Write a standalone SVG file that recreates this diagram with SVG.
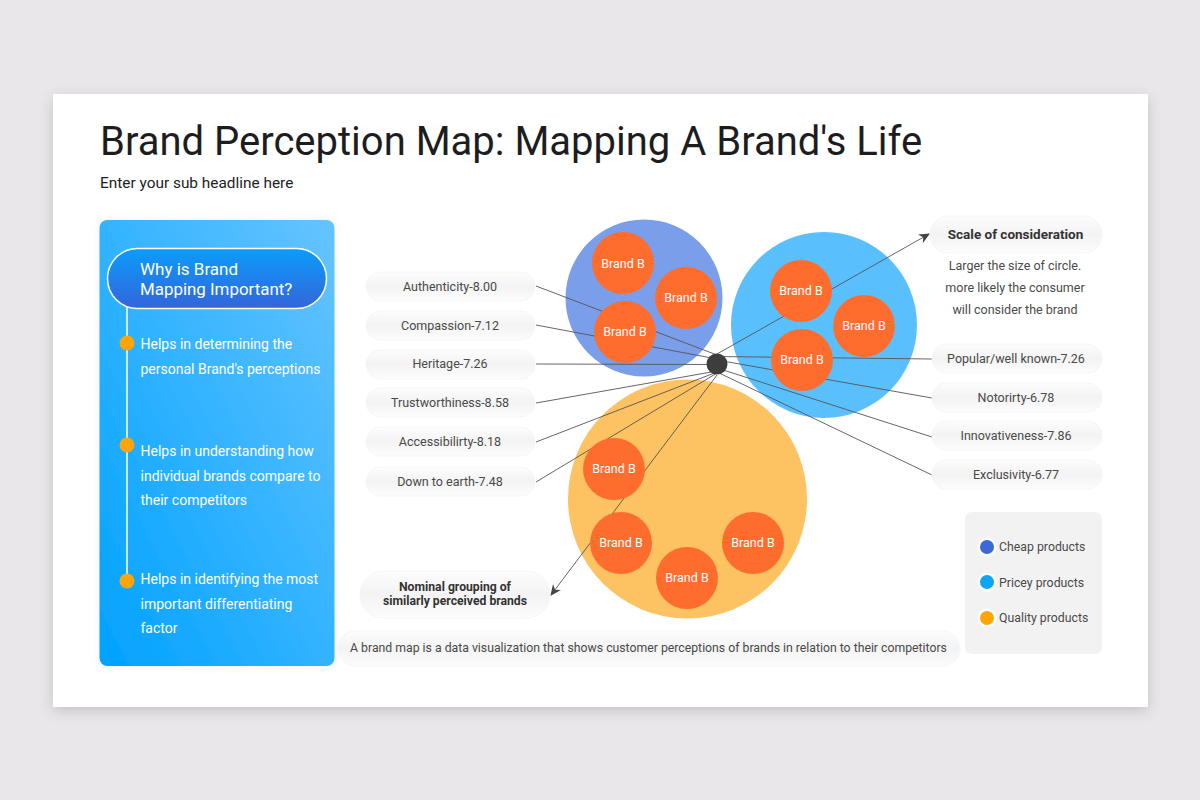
<svg xmlns="http://www.w3.org/2000/svg" width="1200" height="800" viewBox="0 0 1200 800">
<style>
text{font-family:Roboto,"Liberation Sans",sans-serif}
.pill{fill:url(#pg);stroke:#f6f6f6;stroke-width:1}
.lbl{font-size:12.5px;fill:#4a4a4a;text-anchor:middle}
.bold{font-size:13.500px;font-weight:700;fill:#333;text-anchor:middle}
.brand{fill:#ff6d2e}
.bt{font-size:12.5px;fill:#fff;text-anchor:middle}
.side{font-size:14px;fill:#fff}
.dot{fill:#ffa40a}
.cn{fill:none;stroke:#555;stroke-width:1;stroke-opacity:.9}
.leg{font-size:12.300px;fill:#4a4a4a}
</style>
<defs>
<linearGradient id="pg" x1="0" y1="0" x2="0" y2="1"><stop offset="0" stop-color="#fdfdfd"/><stop offset=".5" stop-color="#f3f3f3"/><stop offset="1" stop-color="#fdfdfd"/></linearGradient>
<linearGradient id="panel" x1="1" y1="0" x2="0" y2="1"><stop offset="0" stop-color="#66c4ff"/><stop offset="1" stop-color="#00a2ff"/></linearGradient>
<linearGradient id="head" x1="0" y1="0" x2="0" y2="1"><stop offset="0" stop-color="#0a9dfb"/><stop offset="1" stop-color="#3465d9"/></linearGradient>
<filter id="sh" x="-5%" y="-5%" width="110%" height="110%"><feDropShadow dx="0" dy="4" stdDeviation="7" flood-color="#000" flood-opacity=".16"/></filter>
<filter id="sh2" x="-10%" y="-10%" width="120%" height="120%"><feDropShadow dx="0" dy="0" stdDeviation="4" flood-color="#000" flood-opacity=".06"/></filter>
<marker id="arr" viewBox="0 0 10 10" refX="9" refY="5" markerWidth="11" markerHeight="11" markerUnits="userSpaceOnUse" orient="auto"><path d="M0,0.5L10,5L0,9.5L3,5Z" fill="#444"/></marker>
</defs>
<rect width="1200" height="800" fill="#e9e7e9"/>
<rect x="53" y="94" width="1095" height="613" fill="#fff" filter="url(#sh)"/>
<text x="100" y="155" font-size="40" fill="#1d1d1f">Brand Perception Map: Mapping A Brand's Life</text>
<text x="100" y="188" font-size="15.400" fill="#222">Enter your sub headline here</text>

<g id="side-panel">
<rect x="99.500" y="220" width="235" height="446" rx="8" fill="url(#panel)" filter="url(#sh2)"/>
<line x1="127" y1="305" x2="127" y2="581" stroke="#fff" stroke-width="1.500"/>
<rect x="107.500" y="248.500" width="219" height="60" rx="30" fill="url(#head)" stroke="#fff" stroke-width="1.500"/>
<text x="140" y="275" font-size="17" fill="#fff">Why is Brand</text>
<text x="140" y="295" font-size="16.900" fill="#fff">Mapping Important?</text>
<circle class="dot" cx="127" cy="343" r="7.500"/>
<text class="side" x="140.500" y="349">Helps in determining the</text>
<text class="side" x="140.500" y="374">personal Brand's perceptions</text>
<circle class="dot" cx="127" cy="445" r="7.500"/>
<text class="side" x="140.500" y="456">Helps in understanding how</text>
<text class="side" x="140.500" y="481">individual brands compare to</text>
<text class="side" x="140.500" y="505">their competitors</text>
<circle class="dot" cx="127" cy="581" r="7.500"/>
<text class="side" x="140.500" y="584">Helps in identifying the most</text>
<text class="side" x="140.500" y="609">important differentiating</text>
<text class="side" x="140.500" y="633">factor</text>
</g>

<g id="big-circles">
<circle cx="644" cy="298" r="78.500" fill="#7a9ee9"/>
<circle cx="824" cy="325" r="93" fill="#5ac0fd"/>
<circle cx="687.500" cy="499" r="119.500" fill="#fdc261"/>
</g>

<g id="connectors">
<line class="cn" x1="536" y1="286" x2="717" y2="355"/>
<line class="cn" x1="536" y1="325" x2="717" y2="359"/>
<line class="cn" x1="536" y1="364" x2="717" y2="364.500"/>
<line class="cn" x1="536" y1="403" x2="717" y2="371"/>
<line class="cn" x1="536" y1="442" x2="717" y2="372"/>
<line class="cn" x1="536" y1="482" x2="717" y2="373"/>
<line class="cn" x1="932" y1="359" x2="717" y2="356.500"/>
<line class="cn" x1="932" y1="398" x2="717" y2="360"/>
<line class="cn" x1="932" y1="437" x2="717" y2="368"/>
<line class="cn" x1="932" y1="475" x2="717" y2="372"/>
<line class="cn" x1="717" y1="354" x2="929" y2="234" marker-end="url(#arr)"/>
<line class="cn" x1="717" y1="375" x2="551" y2="595" marker-end="url(#arr)"/>
</g>

<g id="hub"><circle cx="717" cy="364" r="10.500" fill="#3d3d3d"/></g>

<g id="brands-blue">
<circle class="brand" cx="623" cy="263" r="31"/><text class="bt" x="623" y="267.500">Brand B</text>
<circle class="brand" cx="686" cy="298" r="31"/><text class="bt" x="686" y="302">Brand B</text>
<circle class="brand" cx="625" cy="332" r="31"/><text class="bt" x="625" y="336">Brand B</text>
</g>
<g id="brands-sky">
<circle class="brand" cx="801" cy="291" r="31"/><text class="bt" x="801" y="295">Brand B</text>
<circle class="brand" cx="864" cy="326" r="31"/><text class="bt" x="864" y="330">Brand B</text>
<circle class="brand" cx="802" cy="360" r="31"/><text class="bt" x="802" y="364">Brand B</text>
</g>
<g id="brands-yellow">
<circle class="brand" cx="614" cy="469" r="31"/><text class="bt" x="614" y="473">Brand B</text>
<circle class="brand" cx="621" cy="543" r="31"/><text class="bt" x="621" y="547">Brand B</text>
<circle class="brand" cx="687" cy="578" r="31"/><text class="bt" x="687" y="582">Brand B</text>
<circle class="brand" cx="753" cy="543" r="31"/><text class="bt" x="753" y="547">Brand B</text>
</g>

<g id="labels-left">
<g id="authenticity"><rect class="pill" x="366" y="272" width="169" height="29" rx="14.500"/><text class="lbl" x="450" y="291">Authenticity-8.00</text></g>
<g id="compassion"><rect class="pill" x="366" y="311" width="169" height="29" rx="14.500"/><text class="lbl" x="450" y="329.500">Compassion-7.12</text></g>
<g id="heritage"><rect class="pill" x="366" y="350" width="169" height="29" rx="14.500"/><text class="lbl" x="450" y="368">Heritage-7.26</text></g>
<g id="trustworthiness"><rect class="pill" x="366" y="388" width="169" height="29" rx="14.500"/><text class="lbl" x="450" y="407">Trustworthiness-8.58</text></g>
<g id="accessibilirty"><rect class="pill" x="366" y="427" width="169" height="29" rx="14.500"/><text class="lbl" x="450" y="446">Accessibilirty-8.18</text></g>
<g id="down-to-earth"><rect class="pill" x="366" y="467" width="169" height="29" rx="14.500"/><text class="lbl" x="450" y="486">Down to earth-7.48</text></g>
</g>

<g id="labels-right">
<g id="scale"><rect class="pill" x="930" y="216" width="172" height="37" rx="18.500"/><text class="bold" x="1015.500" y="238.500">Scale of consideration</text></g>
<text class="lbl" x="1015" y="270">Larger the size of circle.</text>
<text class="lbl" x="1015" y="292">more likely the consumer</text>
<text class="lbl" x="1015" y="314">will consider the brand</text>
<g id="popular"><rect class="pill" x="932" y="344" width="170" height="29" rx="14.500"/><text class="lbl" x="1016" y="363">Popular/well known-7.26</text></g>
<g id="notorirty"><rect class="pill" x="932" y="383" width="170" height="29" rx="14.500"/><text class="lbl" x="1016" y="401.500">Notorirty-6.78</text></g>
<g id="innovativeness"><rect class="pill" x="932" y="421" width="170" height="29" rx="14.500"/><text class="lbl" x="1016" y="440">Innovativeness-7.86</text></g>
<g id="exclusivity"><rect class="pill" x="932" y="460" width="170" height="29" rx="14.500"/><text class="lbl" x="1016" y="478.500">Exclusivity-6.77</text></g>
</g>

<g id="nominal"><rect class="pill" x="360" y="571" width="190" height="47" rx="23.500"/>
<text class="bold" x="455" y="591" style="font-size:12.200px">Nominal grouping of</text>
<text class="bold" x="455" y="605" style="font-size:12.200px">similarly perceived brands</text></g>

<g id="caption"><rect class="pill" x="338" y="631" width="622" height="35" rx="17.500"/>
<text class="lbl" x="648.500" y="652" style="font-size:12.250px">A brand map is a data visualization that shows customer perceptions of brands in relation to their competitors</text></g>

<g id="legend">
<rect x="965" y="512" width="137" height="142" rx="7" fill="#f2f2f2"/>
<circle cx="987" cy="547" r="9.500" fill="#fff"/><circle cx="987" cy="547" r="7" fill="#3d68d8"/><text class="leg" x="999" y="551">Cheap products</text>
<circle cx="987" cy="582" r="9.500" fill="#fff"/><circle cx="987" cy="582" r="7" fill="#0fa5f5"/><text class="leg" x="999" y="586.500">Pricey products</text>
<circle cx="987" cy="618" r="9.500" fill="#fff"/><circle cx="987" cy="618" r="7" fill="#ffa40a"/><text class="leg" x="999" y="622">Quality products</text>
</g>
</svg>
